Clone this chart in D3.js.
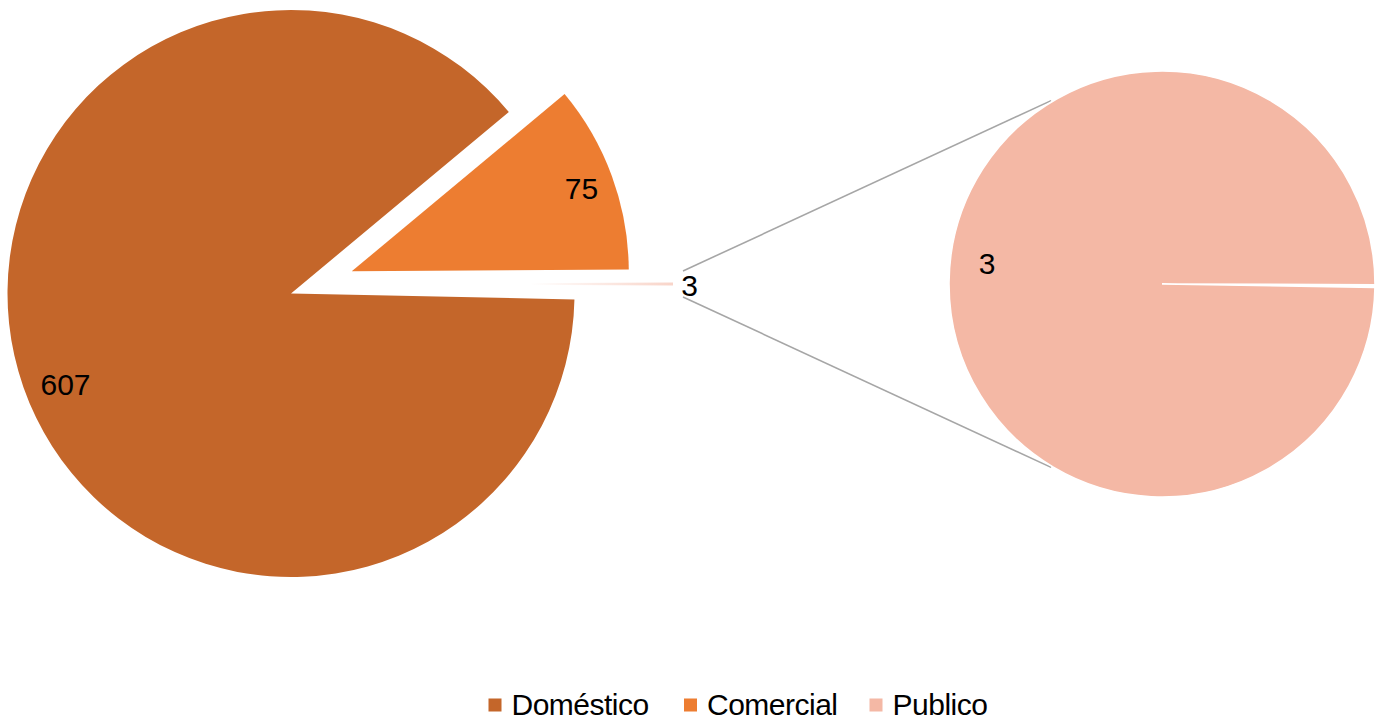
<!DOCTYPE html>
<html>
<head>
<meta charset="utf-8">
<script src="https://cdn.jsdelivr.net/npm/d3@7"></script>
<style>
  html, body { margin: 0; padding: 0; background: #ffffff; }
  svg { display: block; font-family: "Liberation Sans", Arial, Helvetica, sans-serif; }
</style>
</head>
<body>
<svg id="chart" width="1381" height="719"></svg>
<script>
// ---- data ----
const categories = ["Doméstico", "Comercial", "Publico"];
const values = [607, 75, 3];
const secondaryCategories = ["Publico"];
const secondaryValues = [3];
const colors = ["#C4662A", "#ED7D31", "#F4B8A5"];

// ---- layout ----
const W = 1381, H = 719;
const deg = Math.PI / 180;
const main = { cx: 291, cy: 293.5, r: 283.5, rExploded: 277, start: 91.2 * deg };
const explodeComercial = 64.7;
const other = { tipX: 673, cy: 284, r: 283, fadeStart: 530 };
const second = { cx: 1162, cy: 284, r: 213, start: 90.9 * deg };
const fontSize = 30;

const svg = d3.select("#chart");

const otherApexX = other.tipX - other.r;
const defs = svg.append("defs");
const grad = defs.append("linearGradient")
  .attr("id", "otherGrad")
  .attr("gradientUnits", "userSpaceOnUse")
  .attr("x1", other.fadeStart - otherApexX).attr("y1", 0)
  .attr("x2", other.tipX - otherApexX).attr("y2", 0);
grad.append("stop").attr("offset", "0%").attr("stop-color", "#F4B8A5").attr("stop-opacity", 0);
grad.append("stop").attr("offset", "100%").attr("stop-color", "#F4B8A5").attr("stop-opacity", 0.6);

const pie = d3.pie().sort(null).startAngle(main.start).endAngle(main.start + 2 * Math.PI);
const arcs = pie(values);

const gMain = svg.append("g");

// Doméstico
const dom = arcs[0];
gMain.append("path")
  .attr("transform", `translate(${main.cx},${main.cy})`)
  .attr("d", d3.arc().innerRadius(0).outerRadius(main.r)(dom))
  .attr("fill", colors[0]);

// Comercial (exploded)
const com = arcs[1];
const comMid = (com.startAngle + com.endAngle) / 2;
const comX = main.cx + explodeComercial * Math.sin(comMid);
const comY = main.cy - explodeComercial * Math.cos(comMid);
gMain.append("path")
  .attr("transform", `translate(${comX},${comY})`)
  .attr("d", d3.arc().innerRadius(0).outerRadius(main.rExploded)(com))
  .attr("fill", colors[1]);

// Publico "other" slice, rotated toward secondary pie
const pub = arcs[2];
const half = (pub.endAngle - pub.startAngle) / 2;
gMain.append("path")
  .attr("transform", `translate(${otherApexX},${other.cy})`)
  .attr("d", d3.arc().innerRadius(0).outerRadius(other.r)
    ({ startAngle: Math.PI / 2 - half * 0.4, endAngle: Math.PI / 2 + half * 0.4 }))
  .attr("fill", "url(#otherGrad)");

// connector lines (tangent to secondary pie)
function tangentPoint(px, py, sign) {
  const dx = px - second.cx, dy = py - second.cy;
  const d = Math.hypot(dx, dy);
  const base = Math.atan2(dy, dx);
  const t = Math.acos(second.r / d);
  const a = base + sign * t;
  return [second.cx + second.r * Math.cos(a), second.cy + second.r * Math.sin(a)];
}
const connStarts = [[683, other.cy - 13, 1], [683, other.cy + 13, -1]];
connStarts.forEach(([x, y, s]) => {
  const [tx, ty] = tangentPoint(x, y, s);
  const f = 0.945;
  svg.append("line")
    .attr("x1", x).attr("y1", y)
    .attr("x2", x + (tx - x) * f).attr("y2", y + (ty - y) * f)
    .attr("stroke", "#A6A6A6").attr("stroke-width", 1.6);
});

// secondary pie
const pie2 = d3.pie().sort(null).startAngle(second.start).endAngle(second.start + 2 * Math.PI - 0.012);
const arcs2 = pie2(secondaryValues);
svg.append("g").attr("transform", `translate(${second.cx},${second.cy})`)
  .selectAll("path").data(arcs2).join("path")
  .attr("d", d3.arc().innerRadius(0).outerRadius(second.r))
  .attr("fill", colors[2])
  .attr("stroke", "#ffffff").attr("stroke-width", 1.6).attr("stroke-linejoin", "miter");

// data labels
const labels = [
  { text: values[0], x: 65.5, y: 384 },
  { text: values[1], x: 581.5, y: 188 },
  { text: values[2], x: 689.5, y: 285 },
  { text: secondaryValues[0], x: 987, y: 263 }
];
svg.append("g").selectAll("text").data(labels).join("text")
  .attr("x", d => d.x).attr("y", d => d.y)
  .attr("text-anchor", "middle").attr("dominant-baseline", "central")
  .attr("font-size", fontSize).attr("fill", "#000")
  .text(d => d.text);

// legend
const legendItems = categories.map((c, i) => ({ name: c, color: colors[i] }));
const legendX = [488.5, 684, 869.5];
const lg = svg.append("g");
legendItems.forEach((d, i) => {
  lg.append("rect").attr("x", legendX[i]).attr("y", 698.5).attr("width", 13).attr("height", 13)
    .attr("fill", d.color);
  lg.append("text").attr("x", legendX[i] + 23).attr("y", 714.5)
    .attr("font-size", fontSize).attr("fill", "#000").attr("letter-spacing", -0.5)
    .text(d.name);
});
</script>
</body>
</html>
